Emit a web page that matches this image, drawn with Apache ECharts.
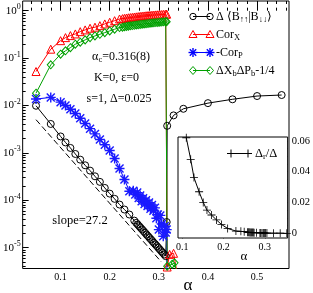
<!DOCTYPE html>
<html><head><meta charset="utf-8">
<script src="https://cdn.jsdelivr.net/npm/echarts@6/dist/echarts.min.js"></script>
<style>html,body{margin:0;padding:0;background:#fff}#c{width:313px;height:293px}</style>
</head><body><div id="c"></div>
<script>
const FONT = 'Liberation Serif';

// ---------- data ----------
const alphaBlack = [0.05,0.08,0.10,0.11,0.12,0.13,0.14,0.15,0.16,0.17,0.18,0.19,0.20,0.21,0.22,0.23,0.24,0.25,
  0.254,0.257,0.260,0.263,0.266,0.269,0.272,0.275,0.278,0.281,0.284,0.287,0.290,0.293,0.296,0.299,0.302,0.305,0.308,0.311,0.314,
  0.316,0.317,0.33,0.35,0.40,0.45,0.50,0.55];
const valBlack = [9.86e-3,4.07e-3,2.22e-3,1.66e-3,1.27e-3,9.48e-4,7.19e-4,5.46e-4,4.22e-4,3.20e-4,2.44e-4,1.82e-4,1.38e-4,1.07e-4,8.11e-5,6.37e-5,5.00e-5,3.72e-5,
  3.33e-5,3.08e-5,2.84e-5,2.62e-5,2.42e-5,2.23e-5,2.06e-5,1.89e-5,1.75e-5,1.61e-5,1.49e-5,1.37e-5,1.26e-5,1.17e-5,1.08e-5,9.93e-6,9.16e-6,8.43e-6,7.78e-6,7.18e-6,6.62e-6,
  3.47e-5,3.72e-3,6.17e-3,8.51e-3,1.12e-2,1.35e-2,1.58e-2,1.66e-2];

const alphaRed = [0.05,0.08,0.10,0.11,0.12,0.13,0.14,0.15,0.16,0.17,0.18,0.19,0.20,0.21,0.22,
  0.226,0.230,0.234,0.238,0.242,0.246,0.250,0.254,0.258,0.262,0.266,0.270,0.274,0.278,0.282,0.286,0.290,0.294,0.298,0.302,0.306,0.310,0.314,
  0.316,0.317,0.322,0.330,0.340];
const valRed = [0.052,0.154,0.233,0.270,0.298,0.323,0.361,0.393,0.426,0.448,0.483,0.525,0.570,0.615,0.668,
  0.679,0.689,0.698,0.708,0.716,0.724,0.733,0.741,0.750,0.759,0.767,0.774,0.782,0.789,0.796,0.804,0.809,0.815,0.820,0.826,0.832,0.838,0.841,
  0.845,3.9e-6,7.2e-6,7.6e-6,2.0e-6];

const alphaBlue = [0.05,0.08,0.10,0.11,0.12,0.13,0.14,0.15,0.16,0.17,0.18,0.19,0.20,0.21,0.22,0.23,0.24,
  0.248,0.252,0.256,0.259,0.262,0.265,0.268,0.271,0.274,0.277,0.280,0.283,0.286,0.289,0.292,0.295,0.298,0.300,0.303,0.306,0.309,0.312,0.314,0.316,
  0.317];
const valBlue = [0.01365,0.01479,0.01175,0.0100,0.00832,0.00676,0.00537,0.00417,0.00324,0.00251,0.00191,0.00148,0.00112,7.59e-4,4.68e-4,2.75e-4,1.55e-4,
  1.58e-4,1.32e-4,1.45e-4,1.12e-4,1.26e-4,9.55e-5,1.10e-4,8.32e-5,1.0e-4,7.59e-5,8.91e-5,6.61e-5,7.94e-5,6.03e-5,6.92e-5,4.17e-5,5.01e-5,2.40e-5,4.79e-5,3.16e-5,1.74e-5,2.82e-5,2.09e-5,2.40e-5,
  3.2e-7];

const alphaGreen = [0.05,0.08,0.10,0.11,0.12,0.13,0.14,0.15,0.16,0.17,0.18,0.19,0.20,0.21,0.22,
  0.226,0.230,0.234,0.238,0.242,0.246,0.250,0.254,0.258,0.262,0.266,0.270,0.274,0.278,0.282,0.286,0.290,0.294,0.298,0.302,0.306,0.310,0.314,
  0.316,0.317,0.327,0.332,0.340];
const valGreen = [0.0182,0.0719,0.121,0.142,0.166,0.196,0.216,0.242,0.270,0.293,0.318,0.344,0.374,0.406,0.439,
  0.449,0.457,0.465,0.472,0.479,0.485,0.492,0.499,0.506,0.512,0.519,0.525,0.531,0.537,0.543,0.550,0.555,0.560,0.565,0.570,0.575,0.581,0.585,
  0.587,4.07e-6,4.47e-6,4.79e-6,2.0e-6];

const alphaSlope = [0.05, 0.305];
const valSlope = [5.01e-3, 5.01e-6];

const alphaInset = [0.11,0.1207,0.1286,0.141,0.151,0.160,0.171,0.183,0.195,0.210,0.230,0.242,0.25,0.258,0.26,0.262,0.264,0.266,0.268,0.27,0.272,0.274,0.28,0.288,0.29,0.293,0.296,0.298,0.30,0.302,0.305,0.321,0.337,0.353];
const valInset = [0.062,0.048,0.0362,0.027,0.0201,0.0151,0.0119,0.0087,0.0058,0.0032,0.0015,0.0013,0.0011,0.0008,0.0007,0.0007,0.0006,0.0006,0.0005,0.0005,0.0005,0.0004,0.0004,0.0003,0.0003,0.0003,0.0003,0.0003,0.0002,0.0002,0.0002,0.0001,0.0001,0.0];

// tick labels
const xMajorMain = [0.1,0.2,0.3,0.4,0.5];
const xMinorMain = [0.04,0.06,0.08,0.12,0.14,0.16,0.18,0.22,0.24,0.26,0.28,0.32,0.34,0.36,0.38,0.42,0.44,0.46,0.48,0.52,0.54,0.56];
const yDecades = [-5,-4,-3,-2,-1,0];
const xMajorInset = [0.1,0.2,0.3];
const xMinorInset = [0.12,0.14,0.16,0.18,0.22,0.24,0.26,0.28,0.32,0.34];
const yMajorInset = [0,0.02,0.04,0.06];
const yMinorInset = [0.005,0.01,0.015,0.025,0.03,0.035,0.045,0.05,0.055];

// ---------- layout ----------
const X_MIN = 0.0228, X_MAX = 0.565;
const Y_MIN = 3.63e-6, Y_MAX = 1.6;
const E_MIN = Math.log10(Y_MIN), E_MAX = Math.log10(Y_MAX);
const yMinorExp = [];
for (let k = -6; k <= 0; k++) for (let m = 2; m <= 9; m++) {
  const e = k + Math.log10(m); if (e > E_MIN && e < E_MAX) yMinorExp.push(e);
}

const zip = (a, b) => a.map((v, i) => [v, b[i]]);
const starPath = 'path://M0,4.3L10,4.3L10,5.7L0,5.7Z M4.3,0L5.7,0L5.7,10L4.3,10Z M0.5,1.5L1.5,0.5L9.5,8.5L8.5,9.5Z M8.5,0.5L9.5,1.5L1.5,9.5L0.5,8.5Z';
const plusPath = 'path://M0,4.5L10,4.5L10,5.5L0,5.5Z M4.5,0L5.5,0L5.5,10L4.5,10Z';

function axis(base) {
  return Object.assign({
    type: 'value', axisLine: {show: false}, splitLine: {show: false},
    axisLabel: {show: false}
  }, base);
}
function ticks(vals, len) {
  return {show: true, inside: true, length: len, customValues: vals, lineStyle: {color: '#000', width: 1}};
}
const lab = (vals, fs, margin, fmt, extra) => Object.assign({
  show: true, customValues: vals, fontSize: fs, fontFamily: FONT, color: '#000', margin: margin, formatter: fmt
}, extra || {});

const xAxes = [
  axis({gridIndex: 0, min: X_MIN, max: X_MAX, position: 'bottom', axisTick: ticks(xMajorMain, 6),
        axisLabel: lab(xMajorMain, 10, 4, v => String(v))}),
  axis({gridIndex: 0, min: X_MIN, max: X_MAX, position: 'bottom', axisTick: ticks(xMinorMain, 3)}),
  axis({gridIndex: 0, min: X_MIN, max: X_MAX, position: 'top', axisTick: ticks(xMajorMain, 6)}),
  axis({gridIndex: 0, min: X_MIN, max: X_MAX, position: 'top', axisTick: ticks(xMinorMain, 3)}),
  axis({gridIndex: 1, min: 0.09, max: 0.355, position: 'bottom', axisTick: ticks(xMajorInset, 5),
        axisLabel: lab(xMajorInset, 10, 4, v => String(v))}),
  axis({gridIndex: 1, min: 0.09, max: 0.355, position: 'bottom', axisTick: ticks(xMinorInset, 2.5)}),
  axis({gridIndex: 1, min: 0.09, max: 0.355, position: 'top', axisTick: ticks(xMajorInset, 5)}),
  axis({gridIndex: 1, min: 0.09, max: 0.355, position: 'top', axisTick: ticks(xMinorInset, 2.5)})
];
const yAxes = [
  {type: 'log', gridIndex: 0, min: Y_MIN, max: Y_MAX, show: false, splitLine: {show: false}},
  axis({gridIndex: 0, min: E_MIN, max: E_MAX, position: 'left', axisTick: ticks(yDecades, 6),
        axisLabel: lab(yDecades, 11, 2, v => '10{e|' + v + '}', {rich: {e: {fontSize: 8, fontFamily: FONT, padding: [0, 0, 7, 0]}}})}),
  axis({gridIndex: 0, min: E_MIN, max: E_MAX, position: 'left', axisTick: ticks(yMinorExp, 3)}),
  axis({gridIndex: 1, min: -0.003, max: 0.0625, position: 'right', axisTick: ticks(yMajorInset, 5),
        axisLabel: lab(yMajorInset, 10.5, 4, v => String(v))}),
  axis({gridIndex: 1, min: -0.003, max: 0.0625, position: 'right', axisTick: ticks(yMinorInset, 2.5)}),
  axis({gridIndex: 1, min: -0.003, max: 0.0625, position: 'left', axisTick: ticks(yMajorInset, 5)}),
  axis({gridIndex: 1, min: -0.003, max: 0.0625, position: 'left', axisTick: ticks(yMinorInset, 2.5)})
];

const hollow = c => ({color: 'rgba(0,0,0,0)', borderColor: c, borderWidth: 1});
const common = {type: 'line', xAxisIndex: 0, yAxisIndex: 0, showAllSymbol: true, clip: true, silent: true, emphasis: {disabled: true}};

const series = [
  Object.assign({}, common, {data: zip(alphaSlope, valSlope), symbol: 'none',
    lineStyle: {color: '#000', width: 1, type: [6, 3]}}),
  Object.assign({}, common, {data: zip(alphaBlack, valBlack), symbol: 'circle', symbolSize: 7,
    itemStyle: hollow('#000'), lineStyle: {color: '#000', width: 1}}),
  Object.assign({}, common, {data: zip(alphaRed, valRed), symbol: 'triangle', symbolSize: 8,
    itemStyle: hollow('#ff0000'), lineStyle: {color: '#ff0000', width: 1}}),
  Object.assign({}, common, {data: zip(alphaBlue, valBlue), symbol: starPath, symbolSize: 10,
    itemStyle: {color: '#1a1aff'}, lineStyle: {color: '#0000ff', width: 1}}),
  Object.assign({}, common, {data: zip(alphaGreen, valGreen), symbol: 'diamond', symbolSize: [7, 8],
    itemStyle: hollow('#00a000'), lineStyle: {color: '#00a000', width: 1}}),
  Object.assign({}, common, {xAxisIndex: 4, yAxisIndex: 3, data: zip(alphaInset, valInset), symbol: plusPath, symbolSize: 8,
    itemStyle: {color: '#000'}, lineStyle: {color: '#000', width: 1}, z: 10})
];

// ---------- legend & annotations ----------
const sub = {fontSize: 8.5, fontFamily: FONT, padding: [7, 0, 0, 0]};
const legendRows = [
  {y: 16.5, kind: 'circle', color: '#000', text: 'Δ ⟨B{s|↑↑}|B{s|↓↓}⟩'},
  {y: 34.5, kind: 'triangle', color: '#ff0000', text: 'Cor{s|X}'},
  {y: 52.5, kind: 'star', color: '#0000ff', text: '-Cor{s|P}'},
  {y: 70.5, kind: 'diamond', color: '#00a000', text: 'ΔX{s|b}ΔP{s|b}-1/4'}
];
function sym(kind, x, y, c) {
  const st = {fill: 'none', stroke: c, lineWidth: 1};
  if (kind === 'circle') return [{type: 'circle', shape: {cx: x, cy: y, r: 3.2}, style: st}];
  if (kind === 'triangle') return [{type: 'polygon', shape: {points: [[x, y - 4], [x + 4, y + 3], [x - 4, y + 3]]}, style: st}];
  if (kind === 'diamond') return [{type: 'polygon', shape: {points: [[x, y - 4], [x + 3.5, y], [x, y + 4], [x - 3.5, y]]}, style: st}];
  const r = kind === 'star' ? 4.5 : 4, d = 3.2, lw = {stroke: c, lineWidth: kind === 'star' ? 1.4 : 1};
  const out = [
    {type: 'line', shape: {x1: x - r, y1: y, x2: x + r, y2: y}, style: lw},
    {type: 'line', shape: {x1: x, y1: y - r, x2: x, y2: y + r}, style: lw}];
  if (kind === 'star') out.push(
    {type: 'line', shape: {x1: x - d, y1: y - d, x2: x + d, y2: y + d}, style: lw},
    {type: 'line', shape: {x1: x - d, y1: y + d, x2: x + d, y2: y - d}, style: lw});
  return out;
}
const graphics = [];
legendRows.forEach(r => {
  graphics.push({type: 'line', shape: {x1: 193, y1: r.y, x2: 210, y2: r.y}, style: {stroke: r.color, lineWidth: 1}, z: 20});
  sym(r.kind, 193, r.y, r.color).concat(sym(r.kind, 210, r.y, r.color)).forEach(g => { g.z = 20; graphics.push(g); });
  graphics.push({type: 'text', x: 216, y: r.y, z: 20, style: {text: r.text, fontSize: 12, fontFamily: FONT, fill: '#000',
    verticalAlign: 'middle', align: 'left', rich: {s: sub}}});
});
// inset legend
graphics.push({type: 'line', shape: {x1: 231, y1: 153.5, x2: 248, y2: 153.5}, style: {stroke: '#000', lineWidth: 1}, z: 20});
sym('plus', 231, 153.5, '#000').concat(sym('plus', 248, 153.5, '#000')).forEach(g => { g.z = 20; graphics.push(g); });
graphics.push({type: 'text', x: 255, y: 153.5, z: 20, style: {text: 'Δ{s|r}/Δ', fontSize: 12.5, fontFamily: FONT, fill: '#000',
  verticalAlign: 'middle', align: 'left', rich: {s: sub}}});

const notes = [
  {x: 121, y: 56.5, text: 'α{s|c}=0.316(8)', fs: 12},
  {x: 116.5, y: 77.5, text: 'K=0, ε=0', fs: 12},
  {x: 119, y: 98.5, text: 's=1, Δ=0.025', fs: 12},
  {x: 80, y: 220.5, text: 'slope=27.2', fs: 12.5},
  {x: 188, y: 286, text: 'α', fs: 17},
  {x: 244, y: 256.5, text: 'α', fs: 13}
];
notes.forEach(n => graphics.push({type: 'text', x: n.x, y: n.y, z: 20, style: {text: n.text, fontSize: n.fs, fontFamily: FONT,
  fill: '#000', align: 'center', verticalAlign: 'middle', rich: {s: sub}}}));

const chart = echarts.init(document.getElementById('c'), null, {renderer: 'canvas'});
chart.setOption({
  animation: false,
  backgroundColor: '#fff',
  grid: [
    {left: 22, top: 1, right: 24, bottom: 24.5, show: true, borderColor: '#000', borderWidth: 1, backgroundColor: 'transparent'},
    {left: 178, top: 137, right: 24, bottom: 55, show: true, borderColor: '#000', borderWidth: 1, backgroundColor: '#fff', z: 5}
  ],
  xAxis: xAxes,
  yAxis: yAxes,
  series: series,
  graphic: graphics
});
</script></body></html>
